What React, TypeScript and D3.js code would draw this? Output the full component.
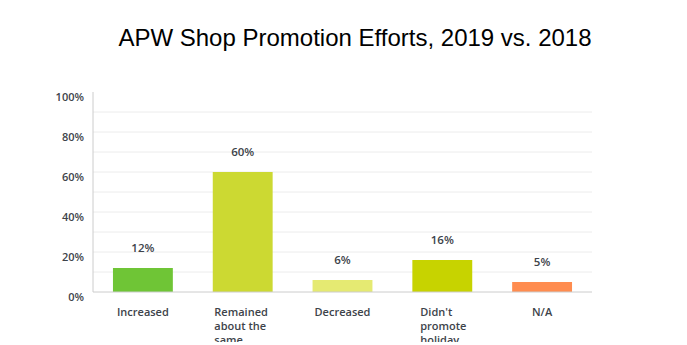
import React from "react";
import * as d3 from "d3";

const categories = [["Increased"], ["Remained", "about the", "same"], ["Decreased"], ["Didn't", "promote", "holiday"], ["N/A"]];
const values = [12, 60, 6, 16, 5];
const colors = ["#6fc536", "#ccd932", "#e5ea72", "#c7d300", "#ff8c4f"];
const yTicks = [0, 20, 40, 60, 80, 100];
const gridTicks = [10, 20, 30, 40, 50, 60, 70, 80, 90];
const title = "APW Shop Promotion Efforts, 2019 vs. 2018";

export default function App() {
  const W = 687, H = 345;
  const left = 93, right = 592, top = 92, bottom = 292;
  const x = d3.scaleBand<number>().domain(d3.range(values.length)).range([left, right]).paddingInner(0.4).paddingOuter(0.2);
  const y = d3.scaleLinear().domain([0, 100]).range([bottom, top]);
  const font = "'Open Sans', sans-serif";
  const textColor = "#3d434a";
  return (
    <svg width={W} height={H} style={{ position: "absolute", left: 0, top: 0, background: "#fff" }}>
      <defs>
        <clipPath id="labelClip">
          <rect x={0} y={0} width={W} height={342} />
        </clipPath>
      </defs>
      <text x={355} y={46} textAnchor="middle" fontFamily="'Liberation Sans', Arial, sans-serif" fontSize={24} fill="#000">{title}</text>
      {gridTicks.map(t => (
        <line key={t} x1={left} x2={right} y1={y(t)} y2={y(t)} stroke="#ececec" strokeWidth={1} />
      ))}
      {yTicks.map(t => (
        <text key={t} x={84} y={y(t) + 9} textAnchor="end" fontFamily={font} fontWeight={600} fontSize={11} fill={textColor}>{t}%</text>
      ))}
      {values.map((v, i) => (
        <g key={i}>
          <rect x={x(i)} y={y(v)} width={x.bandwidth()} height={bottom - y(v)} fill={colors[i]} />
          <text x={(x(i) as number) + x.bandwidth() / 2} y={y(v) - 16} textAnchor="middle" fontFamily={font} fontWeight={600} fontSize={11.5} fill={textColor}>{v}%</text>
        </g>
      ))}
      <line x1={left} x2={left} y1={top} y2={bottom} stroke="#cccccc" strokeWidth={1} />
      <line x1={left} x2={right} y1={bottom} y2={bottom} stroke="#cccccc" strokeWidth={1} />
      <g clipPath="url(#labelClip)">
        {categories.map((lines, i) => {
          const cx = (x(i) as number) + x.bandwidth() / 2;
          const maxLen = d3.max(lines, l => l.length) as number;
          const multi = lines.length > 1;
          const bw = maxLen * 6.3;
          return (
            <text key={i} fontFamily={font} fontWeight={600} fontSize={11} fill={textColor} textAnchor={multi ? "start" : "middle"}>
              {lines.map((l, j) => (
                <tspan key={j} x={multi ? cx - bw / 2 : cx} y={316 + j * 14}>{l}</tspan>
              ))}
            </text>
          );
        })}
      </g>
    </svg>
  );
}
